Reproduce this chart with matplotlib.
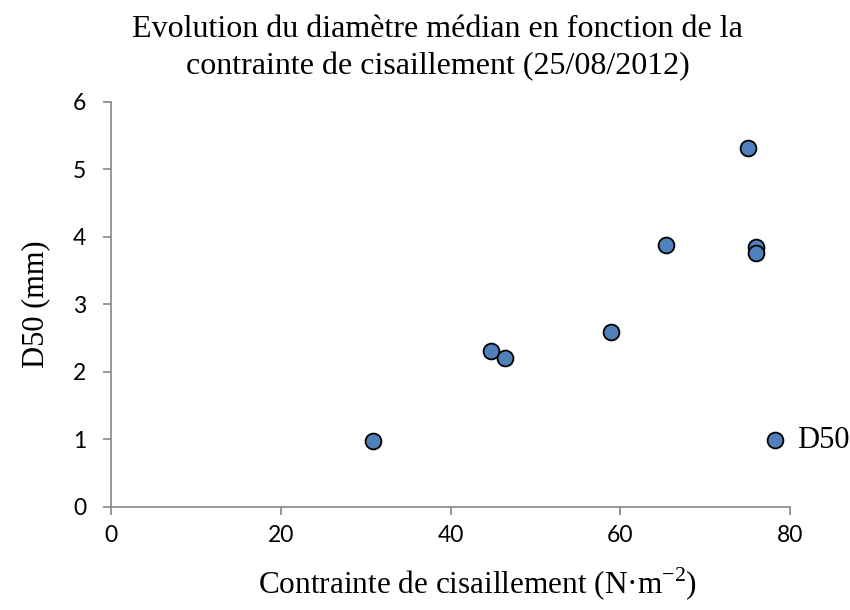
import matplotlib
matplotlib.use("Agg")
import matplotlib.pyplot as plt

# shear stress (N/m2) vs median diameter D50 (mm)
contrainte = [30.9, 44.8, 46.4, 58.9, 65.4, 75.0, 76.0, 76.0]
d50 = [0.98, 2.31, 2.20, 2.59, 3.88, 5.32, 3.85, 3.76]
xticks = [0, 20, 40, 60, 80]
yticks = [0, 1, 2, 3, 4, 5, 6]

serif = "Liberation Serif"
sans = "Lato"
grey = "#868686"

fig = plt.figure(figsize=(8.5, 6.1), dpi=100)
ax = fig.add_axes([0.1306, 0.169, 0.7988, 0.664])

ax.scatter(contrainte, d50, s=130, color="#4F81BD", edgecolor="black",
           linewidth=1.3, zorder=3, label="D50")

ax.set_xlim(0, 80)
ax.set_ylim(0, 6)
ax.set_xticks(xticks)
ax.set_yticks(yticks)
for sp in ["top", "right"]:
    ax.spines[sp].set_visible(False)
for sp in ["left", "bottom"]:
    ax.spines[sp].set_color(grey)
    ax.spines[sp].set_linewidth(1.2)
ax.tick_params(colors=grey, length=6, width=1.2, direction="out", labelcolor="black",
               labelsize=16.5)
ax.tick_params(axis="x", pad=7)
ax.tick_params(axis="y", pad=12)
for lb in ax.get_xticklabels() + ax.get_yticklabels():
    lb.set_fontfamily(sans)

ax.set_xlabel("Contrainte de cisaillement (N·m$^{\\mathregular{-2}}$)", fontsize=22.5,
              family=serif)
ax.xaxis.set_label_coords(0.54, -0.145)
ax.set_ylabel("D50 (mm)", fontsize=22, family=serif, labelpad=16)
fig.suptitle("Evolution du diamètre médian en fonction de la\ncontrainte de cisaillement (25/08/2012)",
             fontsize=23, family=serif, x=0.515, y=0.975, linespacing=1.35)

leg = ax.legend(loc="center left", bbox_to_anchor=(0.956, 0.165), frameon=False,
                prop={"family": serif, "size": 22}, handlelength=1, handletextpad=0.2,
                borderaxespad=0, borderpad=0)

fig.savefig("out.png", dpi=100)
